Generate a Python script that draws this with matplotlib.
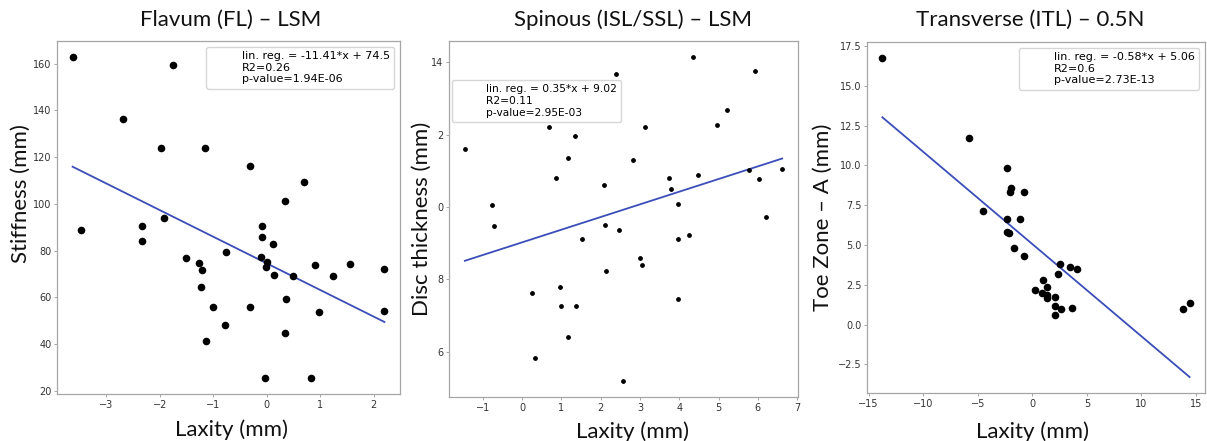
import numpy as np
import matplotlib
matplotlib.use("Agg")
import matplotlib.pyplot as plt

# ---------------- data ----------------
fl_laxity = [-3.63, -1.76, -2.68, -1.98, -1.16, -0.31, 0.70, 0.34, -3.47, -2.33,
             -2.34, -1.93, -0.08, -0.08, 0.12, -0.77, -1.51, -1.26, -1.21, -1.23,
             -0.11, 0.00, -0.01, 0.13, 0.49, 0.91, 1.55, 1.23, 2.20, 2.20,
             0.98, 0.36, -0.32, -1.00, -0.78, -1.13, 0.34, -0.03, 0.83]
fl_stiffness = [162.9, 159.6, 136.4, 123.9, 123.9, 116.1, 109.4, 101.4, 88.7, 90.4,
                84.0, 93.9, 90.4, 85.9, 82.7, 79.3, 76.6, 74.7, 71.6, 64.3,
                77.3, 75.1, 73.1, 69.6, 69.1, 73.9, 74.4, 69.1, 72.1, 54.1,
                53.6, 59.3, 56.0, 55.9, 48.0, 41.3, 44.6, 25.4, 25.4]
fl_slope, fl_intercept = -11.41, 74.5
fl_legend = "lin. reg. = -11.41*x + 74.5\nR2=0.26\np-value=1.94E-06"

sp_laxity = [-1.46, -0.76, -0.71, 0.26, 0.32, 0.68, 0.87, 0.97, 0.99, 1.17,
             1.17, 1.35, 1.38, 1.53, 2.09, 2.12, 2.13, 2.40, 2.47, 2.56,
             2.81, 3.00, 3.06, 3.12, 3.74, 3.80, 3.96, 3.97, 3.97, 4.24,
             4.34, 4.47, 4.95, 5.22, 5.78, 5.92, 6.04, 6.21, 6.62]
sp_disc = [11.59, 10.04, 9.47, 7.62, 5.83, 12.20, 10.81, 7.79, 7.25, 11.34,
           6.40, 11.95, 7.27, 9.10, 10.60, 9.51, 8.22, 13.67, 9.36, 5.19,
           11.29, 8.59, 8.38, 12.20, 10.79, 10.49, 10.08, 9.10, 7.46, 9.21,
           14.14, 10.88, 12.26, 12.67, 11.02, 13.76, 10.76, 9.72, 11.04]
sp_slope, sp_intercept = 0.35, 9.02
sp_legend = "lin. reg. = 0.35*x + 9.02\nR2=0.11\np-value=2.95E-03"
sp_yticks = [14, 12, 10, 8, 6]
sp_yticklabels = ["14", "2", "0", "8", "6"]

tr_laxity = [-13.74, -5.77, -4.48, -2.36, -2.30, -2.36, -2.18, -2.06, -1.93, -1.69,
             -1.13, -0.80, -0.74, 0.25, 0.89, 0.98, 1.35, 1.38, 1.38, 2.09,
             2.12, 2.06, 2.61, 2.39, 2.55, 3.47, 4.08, 3.62, 13.83, 14.42]
tr_toe = [16.76, 11.70, 7.12, 9.87, 6.62, 5.80, 5.76, 8.32, 8.61, 4.81,
          6.66, 8.36, 4.29, 2.18, 1.95, 2.79, 2.37, 1.85, 1.66, 1.74,
          1.16, 0.61, 0.99, 3.17, 3.78, 3.61, 3.49, 1.01, 0.95, 1.37]
tr_slope, tr_intercept = -0.58, 5.06
tr_legend = "lin. reg. = -0.58*x + 5.06\nR2=0.6\np-value=2.73E-13"

titles = ["Flavum (FL) \u2013 LSM", "Spinous (ISL/SSL) \u2013 LSM", "Transverse (ITL) \u2013 0.5N"]
ylabels = ["Stiffness (mm)", "Disc thickness (mm)", "Toe Zone \u2013 A (mm)"]
xlabel = "Laxity (mm)"

# ---------------- figure ----------------
W, H = 1207, 441
fig = plt.figure(figsize=(W / 100, H / 100), dpi=100)

def px_axes(l, t, r, b):
    return fig.add_axes([l / W, 1 - b / H, (r - l) / W, (b - t) / H])

axes = [px_axes(57, 41, 400, 394), px_axes(449, 41, 798, 397), px_axes(867, 42, 1205, 393)]

LABEL_FONT = "Lato"
LINE_COLOR = "#3b4db8"
SPINE_COLOR = "#a6a6a6"

datasets = [
    (fl_laxity, fl_stiffness, fl_slope, fl_intercept, fl_legend, 20),
    (sp_laxity, sp_disc, sp_slope, sp_intercept, sp_legend, 6),
    (tr_laxity, tr_toe, tr_slope, tr_intercept, tr_legend, 20),
]

for i, (ax, (x, y, m, c, leg, s)) in enumerate(zip(axes, datasets)):
    x = np.asarray(x)
    ax.scatter(x, y, s=s, color="black", zorder=3)
    xl = np.array([x.min(), x.max()])
    ax.plot(xl, m * xl + c, color=LINE_COLOR, lw=1.3, zorder=2)
    ax.plot([], [], ' ', label=leg)
    for sp in ax.spines.values():
        sp.set_color(SPINE_COLOR)
        sp.set_linewidth(0.9)
    ax.tick_params(labelsize=7, colors="#333333", length=2.5, width=0.7, pad=1.5)
    ax.tick_params(color=SPINE_COLOR)

axes[1].set_yticks(sp_yticks)
axes[1].set_yticklabels(sp_yticklabels)

# legends
legkw = dict(fontsize=8, handlelength=2.0, framealpha=0.8, edgecolor="#cccccc",
             fancybox=True)
axes[0].legend(loc="upper right", **legkw)
axes[1].legend(loc="upper left", bbox_to_anchor=(0.008, 0.89), borderaxespad=0,
               **{**legkw, "fontsize": 7.7})
axes[2].legend(loc="upper right", **legkw)

# titles
title_x = [231, 633, 1030]
for tx, t in zip(title_x, titles):
    fig.text(tx / W, 1 - 20 / H, t, ha="center", va="center", fontsize=16,
             family=LABEL_FONT, color="#111111")

# axis labels
ylab_pos = [(-0.076, 0.567), (-0.048, 0.5), (-0.10, 0.5)]
xlab_pos = [(0.51, -0.071), (0.525, -0.068), (0.49, -0.08)]
for ax, yl, yp, xp in zip(axes, ylabels, ylab_pos, xlab_pos):
    ax.set_ylabel(yl, fontsize=16, family=LABEL_FONT, color="#111111")
    ax.yaxis.set_label_coords(*yp)
    ax.set_xlabel(xlabel, fontsize=16, family=LABEL_FONT, color="#111111")
    ax.xaxis.set_label_coords(*xp)

fig.savefig("out.png", dpi=100)
